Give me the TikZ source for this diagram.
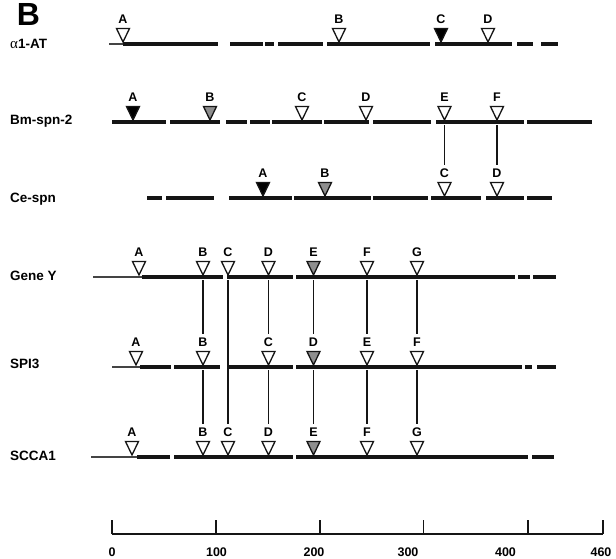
\documentclass[tikz,border=0pt]{standalone}
\usepackage{fontspec}
\setmainfont{Liberation Sans}
\newfontfamily\grk{Liberation Serif}
\usetikzlibrary{calc}
\definecolor{gfill}{HTML}{8E8E8E}
\definecolor{ink}{HTML}{151515}
\tikzset{
  thk/.style={draw=ink,line width=3.2pt},
  thn/.style={draw=ink!80,line width=1.2pt},
  tri/.style={draw=ink,line width=1.3pt,line join=miter},
  lett/.style={anchor=base,inner sep=0pt,font=\bfseries\fontsize{12.5}{13}\selectfont},
  rowlab/.style={anchor=base west,inner sep=0pt,font=\bfseries\fontsize{13.5}{14}\selectfont},
  conn/.style={draw=ink,line width=1.2pt,shorten <=3pt,shorten >=3.5pt},
  axl/.style={anchor=base,inner sep=0pt,font=\bfseries\fontsize{12.5}{13}\selectfont},
}
\newcommand{\mk}[5]{%
  \coordinate (#1) at (#2,#3);
  \draw[tri,fill=#5] ($(#1)+(0,-2)$) -- ++(-6.5,-13.5) -- ++(13,0) -- cycle;
  \node[lett] (#1l) at ($(#1)+(0,-20.5)$) {#4};
}
\newcommand{\segs}[2]{%
  \foreach \a/\b in {#2} {\draw[thk] (\a,#1) -- (\b,#1);}
}
\begin{document}
\begin{tikzpicture}[x=1pt,y=-1pt]
\useasboundingbox (0,0) rectangle (616,558);
\node[anchor=base,inner sep=0pt,font=\bfseries\fontsize{32}{32}\selectfont] (panel) at (28.5,25.5) {B};

% alpha1-AT
\node[rowlab] (labA) at (10,48) {{\grk\mdseries\fontsize{15}{15}\selectfont α}1-AT};
\draw[thn] (109,44) -- (123,44);
\segs{44}{123/218,230/263,265/274,278/323,327/430,435/512,517/533,541/558}
\mk{aA}{123}{44}{A}{white}
\mk{aB}{339}{44}{B}{white}
\mk{aC}{441}{44}{C}{black}
\mk{aD}{488}{44}{D}{white}

% Bm-spn-2
\node[rowlab] (labB) at (10,124) {Bm-spn-2};
\segs{122}{112/166,170/220,226/247,250/270,272/322,324/369,373/431,436/524,527/592}
\mk{bA}{133}{122}{A}{black}
\mk{bB}{210}{122}{B}{gfill}
\mk{bC}{302}{122}{C}{white}
\mk{bD}{366}{122}{D}{white}
\mk{bE}{444.5}{122}{E}{white}
\mk{bF}{497}{122}{F}{white}

% Ce-spn
\node[rowlab] (labC) at (10,202) {Ce-spn};
\segs{198}{147/162,166/214,229/292,294/371,373/428,431/481,486/524,527/552}
\mk{cA}{263}{198}{A}{black}
\mk{cB}{325}{198}{B}{gfill}
\mk{cC}{444.5}{198}{C}{white}
\mk{cD}{497}{198}{D}{white}

% Gene Y
\node[rowlab] (labG) at (10,280) {Gene Y};
\draw[thn] (93,277) -- (142,277);
\segs{277}{142/223,227/293,296/515,518/530,533/556}
\mk{gA}{139}{277}{A}{white}
\mk{gB}{203}{277}{B}{white}
\mk{gC}{228}{277}{C}{white}
\mk{gD}{268.5}{277}{D}{white}
\mk{gE}{313.5}{277}{E}{gfill}
\mk{gF}{367}{277}{F}{white}
\mk{gG}{417}{277}{G}{white}

% SPI3
\node[rowlab] (labS) at (10,368) {SPI3};
\draw[thn] (112,367) -- (140,367);
\segs{367}{140/171,174/220,227/293,296/522,525/532,537/556}
\mk{sA}{136}{367}{A}{white}
\mk{sB}{203}{367}{B}{white}
\mk{sC}{268.5}{367}{C}{white}
\mk{sD}{313.5}{367}{D}{gfill}
\mk{sE}{367}{367}{E}{white}
\mk{sF}{417}{367}{F}{white}

% SCCA1
\node[rowlab] (labK) at (10,460) {SCCA1};
\draw[thn] (91,457) -- (137,457);
\segs{457}{137/170,174/293,296/528,532/554}
\mk{kA}{132}{457}{A}{white}
\mk{kB}{203}{457}{B}{white}
\mk{kC}{228}{457}{C}{white}
\mk{kD}{268.5}{457}{D}{white}
\mk{kE}{313.5}{457}{E}{gfill}
\mk{kF}{367}{457}{F}{white}
\mk{kG}{417}{457}{G}{white}

% connectors
\draw[conn] (bE) -- (cCl.north);
\draw[conn] (bF) -- (cDl.north);
\draw[conn] (gB) -- (sBl.north);
\draw[conn] (gC) -- (kCl.north);
\draw[conn] (gD) -- (sCl.north);
\draw[conn] (gE) -- (sDl.north);
\draw[conn] (gF) -- (sEl.north);
\draw[conn] (gG) -- (sFl.north);
\draw[conn] (sB) -- (kBl.north);
\draw[conn] (sC) -- (kDl.north);
\draw[conn] (sD) -- (kEl.north);
\draw[conn] (sE) -- (kFl.north);
\draw[conn] (sF) -- (kGl.north);

% scale
\coordinate (t0) at (112,534);
\coordinate (t1) at (216,534);
\coordinate (t2) at (320,534);
\coordinate (t3) at (423.5,534);
\coordinate (t4) at (528,534);
\coordinate (t5) at (603,534);
\draw[draw=ink,line width=1.4pt] (t0) -- (t5);
\foreach \t in {t0,t1,t2,t3,t4,t5} {\draw[draw=ink,line width=1.4pt] (\t) -- ++(0,-14);}
\node[axl] (n0) at (112,556.5) {0};
\node[axl] (n1) at (216.5,556.5) {100};
\node[axl] (n2) at (314,556.5) {200};
\node[axl] (n3) at (408,556.5) {300};
\node[axl] (n4) at (505.5,556.5) {400};
\node[axl] (n5) at (601,556.5) {460};
\end{tikzpicture}
\end{document}
